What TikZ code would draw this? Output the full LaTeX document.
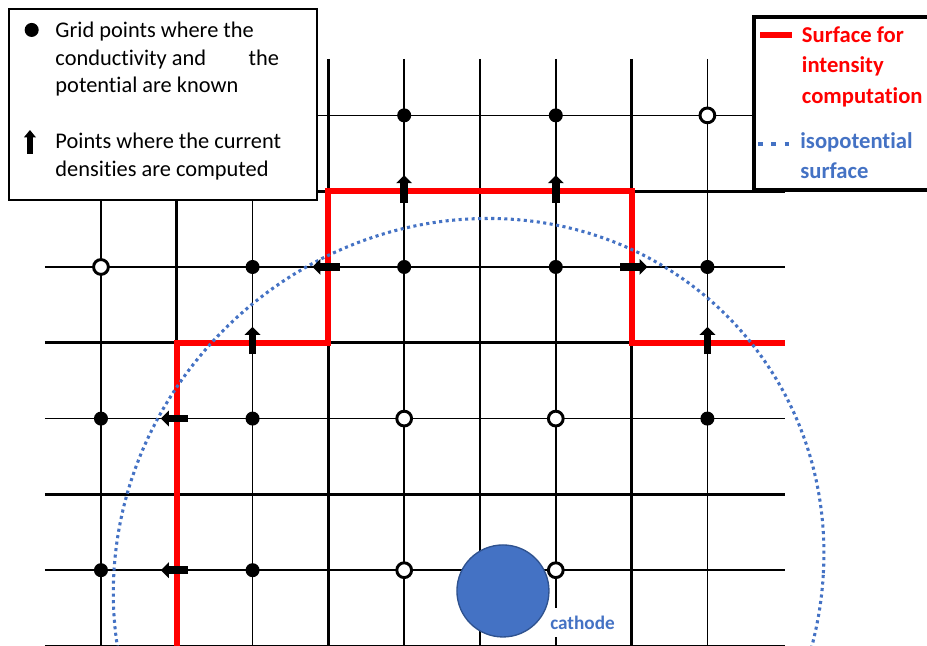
\documentclass[tikz,border=0pt]{standalone}
\usepackage{fontspec}
\setmainfont{Carlito}[Ligatures=NoCommon]
\usetikzlibrary{arrows.meta}
\definecolor{surf}{HTML}{FF0000}
\definecolor{iso}{HTML}{4472C4}
\definecolor{isoedge}{HTML}{2F528F}

\begin{document}
\begin{tikzpicture}[>=Latex,
    thin grid/.style={line width=0.55pt},
    thick grid/.style={line width=1.1pt},
    known/.style={circle, fill=black, inner sep=0pt, minimum size=0.185cm},
    unknown/.style={circle, draw=black, fill=white, line width=1.1pt, inner sep=0pt, minimum size=0.195cm},
    flux/.style={line width=2.8pt, -{Triangle[length=3pt,width=5.8pt]}},
    surface/.style={surf, line width=2.3pt},
    isoline/.style={iso, line width=1.15pt, dash pattern=on 1.15pt off 1.3pt},
    legend/.style={draw=black, fill=white},
    txt/.style={font=\fontsize{8.4}{10.4}\selectfont, align=left, inner sep=0pt, anchor=north west},
    key/.style={txt, font=\fontsize{8.5}{11.4}\selectfont\bfseries}]
  \clip (-1.332,0) rectangle (10.897,8.522);
  % grid
  \foreach \i in {0,2,4,6,8} \draw[thin grid] (\i,7.744) -- (\i,-0.1);
  \foreach \i in {1,3,5,7} \draw[thick grid] (\i,7.744) -- (\i,-0.1);
  \foreach \j in {1,3,5,7} \draw[thin grid] (-0.74,\j) -- (9.02,\j);
  \foreach \j in {0,2,4,6} \draw[thick grid] (-0.74,\j) -- (9.02,\j);
  % surface and isopotential
  \draw[surface] (1,-0.1) -- (1,4) -- (3,4) -- (3,6) -- (7,6) -- (7,4) -- (9.02,4);
  \begin{scope}[shift={(4.85,0.96)}, xslant=0.055]
    \draw[isoline] (0,0) circle (4.68);
  \end{scope}
  % cathode
  \node[fill=white, text=iso, font=\fontsize{7.2}{8}\selectfont\bfseries, inner xsep=5.8pt, inner ysep=3pt] (cathlabel) at (6.352,0.31) {cathode};
  \node[circle, fill=iso, draw=isoedge, line width=0.5pt, minimum size=1.214cm, inner sep=0pt] (cathode) at (5.303,0.726) {};
  % grid points
  \foreach \i/\j in {4/7,6/7,2/5,4/5,6/5,8/5,0/3,2/3,8/3,0/1,2/1}
    \node[known] (k-\i-\j) at (\i,\j) {};
  \foreach \i/\j in {8/7,0/5,4/3,6/3,4/1,6/1}
    \node[unknown] (u-\i-\j) at (\i,\j) {};
  % current densities
  \foreach \i/\j/\ang in {4/6/90,6/6/90,2/4/90,8/4/90,3/5/180,7/5/0,1/3/180,1/1/180}
    \draw[flux] (\i,\j) ++(\ang:-0.15) -- ++(\ang:0.36);
  % legends
  \draw[legend, line width=0.65pt] (-1.214,5.884) rectangle (2.850,8.404);
  \node[known] (bul) at (-0.914,8.127) {};
  \node[txt] (ktext) at (-0.607,8.241) {Grid points where the\\conductivity and\hspace{16pt}the\\potential are known};
  \draw[flux, line width=2.4pt, -{Triangle[length=2.8pt,width=4.4pt]}] (-0.937,6.491) -- (-0.937,6.807);
  \node[txt] (ftext) at (-0.607,6.777) {Points where the current\\densities are computed};
  \draw[legend, line width=1.2pt] (8.615,6.016) rectangle (11.5,8.298);
  \draw[surface] (8.694,8.061) -- (9.116,8.061);
  \node[key, text=surf] (stext) at (9.24,8.179) {Surface for\\intensity\\computation};
  \draw[isoline, line width=1.7pt, dash pattern=on 1.7pt off 3.3pt] (8.668,6.623) -- (9.09,6.623);
  \node[key, text=iso] (itext) at (9.22,6.78) {isopotential\\surface};
\end{tikzpicture}
\end{document}
